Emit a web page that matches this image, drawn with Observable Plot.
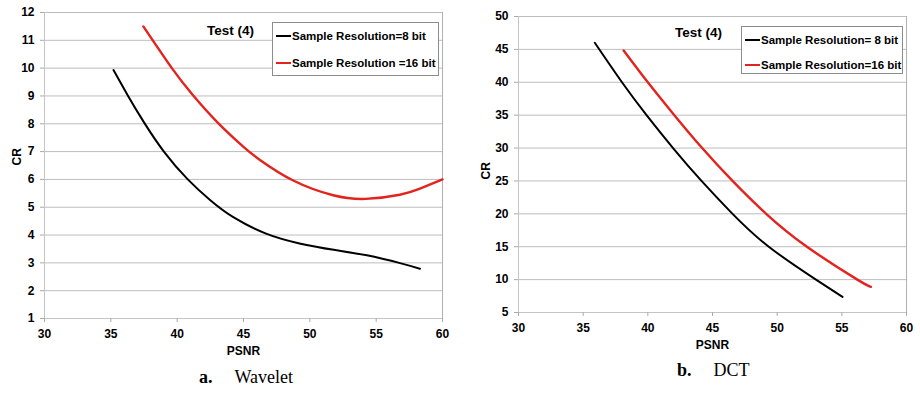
<!DOCTYPE html>
<html>
<head>
<meta charset="utf-8">
<script src="https://cdn.jsdelivr.net/npm/d3@7"></script>
<script src="https://cdn.jsdelivr.net/npm/@observablehq/plot@0.6"></script>
<style>
  html, body { margin: 0; padding: 0; background: #fff; }
  #wrap { position: relative; width: 920px; height: 393px; overflow: hidden; background: #fff;
          font-family: "Liberation Sans", Arial, sans-serif; }
  #wrap svg text { font-weight: bold; }
  .panel { position: absolute; top: 0; width: 460px; }
  .title { position: absolute; font-weight: bold; font-size: 13.5px; white-space: nowrap; color: #000; }
  .legend { position: absolute; background: #fff; border: 1px solid #8c8c8c; box-sizing: border-box; }
  .legend .row { position: absolute; left: 3px; font-weight: bold; font-size: 11.5px; white-space: nowrap; line-height: 14px; }
  .legend .sw { display: inline-block; width: 15px; height: 2px; vertical-align: middle; margin-right: 1px; position: relative; top: -1px; }
  .caption { position: absolute; font-family: "Liberation Serif", "Times New Roman", serif; font-size: 18px; white-space: nowrap; color: #000; }
  .caption b { margin-right: 22px; }
</style>
</head>
<body>
<div id="wrap">
  <div class="panel" id="left" style="left:0"></div>
  <div class="panel" id="right" style="left:460px"></div>
</div>
<script>
// ---- data ----
const xTicks = [30, 35, 40, 45, 50, 55, 60];
const yTicksWavelet = [1, 2, 3, 4, 5, 6, 7, 8, 9, 10, 11, 12];
const yTicksDct = [5, 10, 15, 20, 25, 30, 35, 40, 45, 50];

const seriesNames = ["Sample Resolution=8 bit", "Sample Resolution =16 bit"];
const seriesNamesDct = ["Sample Resolution= 8 bit", "Sample Resolution=16 bit"];
const seriesColors = ["#000000", "#e3231d"];
const panelTitle = "Test (4)";
const captions = [["a.", "Wavelet"], ["b.", "DCT"]];

const wavPsnr8 = [35.2, 36.3, 37.5, 39.0, 40.8, 42.5, 44.2, 46.7, 49.3, 51.8, 54.3, 56.8, 58.3];
const wavCr8   = [9.93, 9.0, 8.05, 7.0, 6.0, 5.25, 4.65, 4.05, 3.69, 3.47, 3.27, 2.99, 2.79];
const wavPsnr16 = [37.45, 39.6, 41.1, 43.0, 45.0, 46.24, 48.75, 51.76, 54.2, 56.78, 58.3, 60.0];
const wavCr16   = [11.5, 10.0, 9.08, 8.07, 7.17, 6.7, 5.96, 5.43, 5.3, 5.45, 5.67, 6.0];

const dctPsnr8 = [35.9, 38.0, 39.9, 41.95, 44.15, 46.55, 49.35, 53.0, 55.05];
const dctCr8   = [46.0, 40, 35, 30, 25, 20, 15, 10, 7.37];
const dctPsnr16 = [38.13, 40.0, 42.05, 44.2, 46.55, 49.15, 52.3, 56.2, 57.25];
const dctCr16   = [44.84, 40, 35, 30, 25, 20, 15, 10, 8.9];

function rows(xs, ys, s) { return xs.map((x, i) => ({x, y: ys[i], s})); }

const FONT = '"Liberation Sans", Arial, sans-serif';

function chart({yTicks, data, margins, cr}) {
  const xd = [xTicks[0], xTicks[xTicks.length - 1]];
  const yd = [yTicks[0], yTicks[yTicks.length - 1]];
  return Plot.plot({
    width: 460,
    height: 362,
    marginLeft: margins[0],
    marginRight: margins[1],
    marginTop: margins[2],
    marginBottom: margins[3],
    style: {fontFamily: FONT, fontSize: "12px", color: "#000", background: "transparent", overflow: "visible"},
    x: {domain: xd},
    y: {domain: yd},
    color: {domain: [0, 1], range: seriesColors},
    marks: [
      Plot.gridY(yTicks, {stroke: "#bdbdbd", strokeOpacity: 1}),
      Plot.ruleX([xd[1]], {stroke: "#b0b0b0"}),
      Plot.ruleX([xd[0]], {stroke: "#c4c4c4"}),
      Plot.ruleY([yd[0]], {stroke: "#c4c4c4"}),
      Plot.axisY(yTicks, {tickSize: 4, tickPadding: 6, stroke: "#aaa", fill: "#000", fontWeight: "bold", fontSize: 12, label: null}),
      Plot.axisX(xTicks, {tickSize: 4, tickPadding: 7, stroke: "#aaa", fill: "#000", fontWeight: "bold", fontSize: 12, label: null}),
      Plot.line(data, {x: "x", y: "y", z: "s", stroke: "s", strokeWidth: d => d.s === 0 ? 2 : 2.4, curve: "natural"}),
      Plot.text(["PSNR"], {frameAnchor: "bottom", dy: 36.5, fontSize: 12, fontWeight: "bold"}),
      Plot.text(["CR"], {frameAnchor: "left", rotate: -90, dx: cr[0], dy: cr[1], fontSize: 12, fontWeight: "bold"})
    ]
  });
}

const left = chart({
  yTicks: yTicksWavelet,
  data: [...rows(wavPsnr8, wavCr8, 0), ...rows(wavPsnr16, wavCr16, 1)],
  margins: [44, 18, 12, 44],
  cr: [-27, 0]
});
const right = chart({
  yTicks: yTicksDct,
  data: [...rows(dctPsnr8, dctCr8, 0), ...rows(dctPsnr16, dctCr16, 1)],
  margins: [58, 14, 16, 50],
  cr: [-32, 15]
});
document.getElementById("left").appendChild(left);
document.getElementById("right").appendChild(right);

const wrap = document.getElementById("wrap");
function add(html) { const t = document.createElement("template"); t.innerHTML = html.trim(); const n = t.content.firstChild; wrap.appendChild(n); return n; }

// titles
add(`<div class="title" style="left:207px;top:23px">${panelTitle}</div>`);
add(`<div class="title" style="left:675px;top:25px">${panelTitle}</div>`);

// legends
function legend(x, y, w, h, names, rowYs) {
  const el = add(`<div class="legend" style="left:${x}px;top:${y}px;width:${w}px;height:${h}px"></div>`);
  names.forEach((n, i) => {
    el.insertAdjacentHTML("beforeend",
      `<div class="row" style="top:${rowYs[i]}px"><span class="sw" style="background:${seriesColors[i]}"></span>${n}</div>`);
  });
}
legend(272, 22, 167, 54, seriesNames, [6, 33]);
legend(741, 26, 162, 48, seriesNamesDct, [6, 31]);

// captions
add(`<div class="caption" style="left:199px;top:367px"><b>${captions[0][0]}</b>${captions[0][1]}</div>`);
add(`<div class="caption" style="left:677px;top:360px"><b>${captions[1][0]}</b>${captions[1][1]}</div>`);
</script>
</body>
</html>
